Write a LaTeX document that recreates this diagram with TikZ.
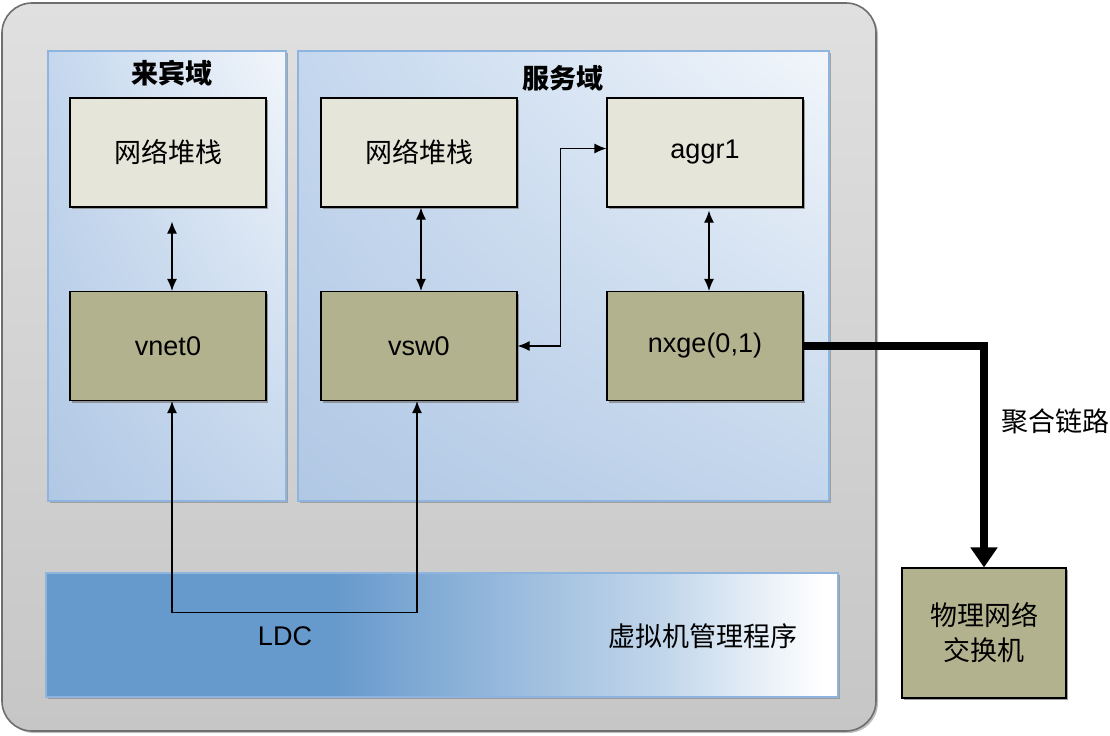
\documentclass[tikz,border=0pt]{standalone}
\usepackage{fontspec}
\setmainfont{Liberation Sans}
\newfontfamily\cjk{Noto Sans CJK SC}
\usetikzlibrary{arrows.meta,shadows,shadings}

\definecolor{stackfill}{HTML}{E6E5D9}
\definecolor{nicfill}{HTML}{B3B28E}
\definecolor{panelline}{HTML}{8FB5DE}
\definecolor{hvblue}{HTML}{6699CC}
\definecolor{framegray}{HTML}{6E6E6E}
\definecolor{framehi}{HTML}{E0E0E0}
\definecolor{framelo}{HTML}{C6C6C6}
\definecolor{paneltl}{HTML}{C4D7EE}
\definecolor{paneltr}{HTML}{F2F6FB}
\definecolor{panelbl}{HTML}{B1C8E4}
\definecolor{panelbr}{HTML}{C3D6EC}

\pgfdeclarehorizontalshading{hvshade}{100bp}{color(0bp)=(hvblue); color(43bp)=(hvblue); color(55bp)=(hvblue!65!white); color(64bp)=(hvblue!40!white); color(74bp)=(white); color(100bp)=(white)}

\tikzset{
  txt/.style={font=\fontsize{13.5}{17.5}\selectfont},
  zh/.style={font=\fontsize{13.5}{17.5}\selectfont\cjk},
  title/.style={font=\fontsize{13.5}{17.5}\selectfont\cjk\bfseries},
  box/.style={draw, line width=.6pt, minimum width=98pt, minimum height=54.5pt, drop shadow={shadow xshift=1pt, shadow yshift=-1pt, opacity=.75}},
  stackbox/.style={box, fill=stackfill},
  nicbox/.style={box, fill=nicfill},
  dbl/.style={{Latex[length=6pt,width=5pt]}-{Latex[length=6pt,width=5pt]}, line width=.6pt},
  panel/.style={draw=panelline, line width=.6pt, upper left=paneltl, upper right=paneltr, lower left=panelbl, lower right=panelbr, drop shadow={shadow xshift=.8pt, shadow yshift=-.8pt, opacity=.6}}
}

\begin{document}
\begin{tikzpicture}[x=0.5pt,y=-0.5pt]
\useasboundingbox (0,0) rectangle (1110,735);
\path[draw=framegray, line width=.8pt, rounded corners=15pt, top color=framehi, bottom color=framelo, drop shadow={shadow xshift=1pt, shadow yshift=-1pt, opacity=.5}] (2,3) rectangle (876,731);
\shade[panel] (48,51) rectangle (286,501);
\shade[panel] (298,51) rectangle (829,501);
\shade[draw=panelline, line width=.6pt, shading=hvshade, drop shadow={shadow xshift=.8pt, shadow yshift=-.8pt, opacity=.6}] (46,573) rectangle (838,697);

\node[title] (guest) at (172,73) {来宾域};
\node[title] (service) at (563,78) {服务域};
\node[stackbox, zh] (gstack) at (168,152.5) {网络堆栈};
\node[nicbox, txt] (vnet) at (168,346) {vnet0};
\node[stackbox, zh] (sstack) at (419,152.5) {网络堆栈};
\node[nicbox, txt] (vsw) at (419,346) {vsw0};
\node[stackbox, txt] (aggr) at (705,152.5) {aggr1};
\node[nicbox, txt] (nxge) at (705,346) {nxge(0,1)};
\node[nicbox, zh, minimum width=82pt, minimum height=65pt, align=center] (phys) at (984,633) {物理网络\\交换机};
\node[txt] (ldc) at (285,636) {LDC};
\node[zh] (hv) at (703,636) {虚拟机管理程序};
\node[zh] (agglink) at (1055,421) {聚合链路};

\draw[dbl] ([xshift=2pt, yshift=-7pt]gstack.south) -- ([xshift=2pt]vnet.north);
\draw[dbl] ([xshift=1pt]sstack.south) -- ([xshift=1pt]vsw.north);
\draw[dbl] ([xshift=2pt, yshift=-1.5pt]aggr.south) -- ([xshift=2pt]nxge.north);
\draw[dbl] (vsw.east) -- ++(43,0) |- ([yshift=2pt]aggr.west);
\draw[dbl] ([xshift=2pt]vnet.south) -- ++(0,211) -| ([xshift=-1pt]vsw.south);
\draw[line width=4pt, -{Triangle[length=10pt,width=13pt]}] (nxge.east) -| (phys.north);
\end{tikzpicture}
\end{document}
